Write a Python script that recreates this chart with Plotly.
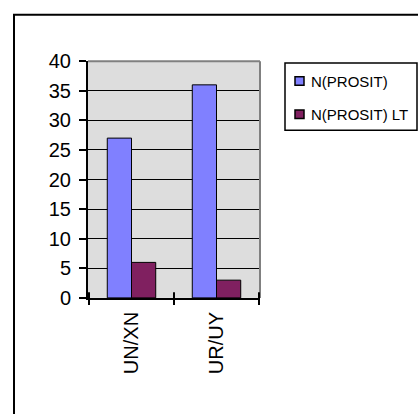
import plotly.graph_objects as go

# Category labels and series values
categories = ["UN/XN", "UR/UY"]
n_prosit = [27, 36]
n_prosit_lt = [6, 3]
y_ticks = [0, 5, 10, 15, 20, 25, 30, 35, 40]

series_names = ["N(PROSIT)", "N(PROSIT) LT"]
series_values = [n_prosit, n_prosit_lt]
series_colors = ["#8080FF", "#802060"]

W, H = 418, 414


def px_x(x):
    return x / W


def px_y(y):
    return 1 - y / H


font = "Liberation Sans, Arial, sans-serif"

fig = go.Figure()
for name, vals, col in zip(series_names, series_values, series_colors):
    fig.add_trace(go.Bar(
        x=categories, y=vals, name=name,
        marker=dict(color=col, line=dict(color="black", width=1)),
    ))

shapes = [
    # chart-area frame (runs off the right and bottom edges)
    dict(type="rect", xref="paper", yref="paper",
         x0=px_x(14), x1=px_x(440), y0=px_y(440), y1=px_y(4),
         line=dict(color="black", width=2), layer="below"),
    # grey plot-area frame on top and right
    dict(type="line", xref="paper", yref="paper",
         x0=px_x(88), x1=px_x(260), y0=px_y(53), y1=px_y(53),
         line=dict(color="#808080", width=2)),
    dict(type="line", xref="paper", yref="paper",
         x0=px_x(260), x1=px_x(260), y0=px_y(53), y1=px_y(303),
         line=dict(color="#808080", width=2)),
    # legend box
    dict(type="rect", xref="paper", yref="paper",
         x0=px_x(285), x1=px_x(417), y0=px_y(126), y1=px_y(55),
         line=dict(color="black", width=1.5), fillcolor="white"),
]

# upper half of the cross-style category tick marks
for i in range(len(categories) + 1):
    shapes.append(dict(
        type="line", xref="x", yref="paper",
        x0=i - 0.5, x1=i - 0.5, y0=px_y(303), y1=px_y(297),
        line=dict(color="black", width=2),
    ))

annotations = []

# hand-built legend: small swatch plus label per series
row_y = [74, 109]
for name, col, ry in zip(series_names, series_colors, row_y):
    shapes.append(dict(
        type="rect", xref="paper", yref="paper",
        x0=px_x(295), x1=px_x(304), y0=px_y(ry + 4.5), y1=px_y(ry - 4.5),
        line=dict(color="black", width=1.5), fillcolor=col,
    ))
    annotations.append(dict(
        xref="paper", yref="paper", x=px_x(309), y=px_y(ry),
        xanchor="left", yanchor="middle", showarrow=False,
        text=name, font=dict(size=15, family=font, color="black"),
    ))

fig.update_layout(
    width=W, height=H,
    margin=dict(l=0, r=0, t=0, b=0),
    paper_bgcolor="white",
    plot_bgcolor="#DDDDDD",
    barmode="group",
    bargap=0.43,
    bargroupgap=0,
    showlegend=False,
    font=dict(family=font, color="black"),
    xaxis=dict(
        domain=[px_x(88), px_x(260)],
        type="category",
        tickangle=-90,
        ticks="outside", ticklen=5, tickwidth=2, tickcolor="black",
        tickson="boundaries",
        ticklabelstandoff=4,
        showline=True, linecolor="black", linewidth=2,
        showgrid=False,
        tickfont=dict(size=20, family=font),
    ),
    yaxis=dict(
        domain=[px_y(303), px_y(53)],
        range=[0, 40],
        tickvals=y_ticks,
        ticks="outside", ticklen=7, tickwidth=2, tickcolor="black",
        ticklabelstandoff=4,
        showline=True, linecolor="black", linewidth=2,
        showgrid=True, gridcolor="black", gridwidth=1,
        zeroline=False,
        tickfont=dict(size=20, family=font),
    ),
    shapes=shapes,
    annotations=annotations,
)

fig.write_html("out.html")
